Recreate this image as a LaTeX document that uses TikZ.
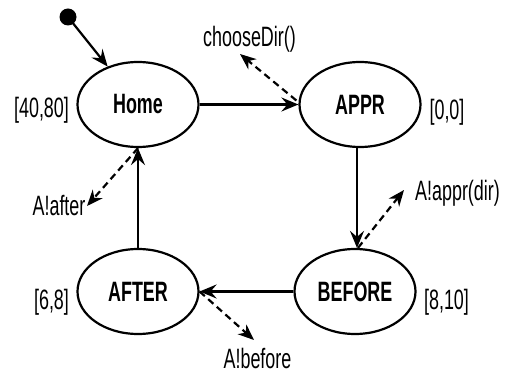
\documentclass[tikz,border=0pt]{standalone}
\usepackage{fontspec}
\setmainfont[FakeStretch=0.64]{Liberation Sans}
\usetikzlibrary{shapes.geometric,arrows.meta}
\tikzset{
  state/.style={draw, ellipse, line width=2.2pt, minimum width=121pt, minimum height=85pt, inner sep=0pt, font=\fontsize{28}{32}\selectfont\bfseries},
  lbl/.style={anchor=base, inner sep=0pt, font=\fontsize{28}{32}\selectfont},
  trans/.style={line width=2.2pt, -{Stealth[length=17pt,width=14pt,inset=6pt]}},
  sig/.style={line width=2.2pt, dash pattern=on 7pt off 4.5pt, -{Stealth[length=16pt,width=13pt,inset=5pt]}}
}
\begin{document}
\begin{tikzpicture}[x=1pt,y=-1pt]
\useasboundingbox (0,0) rectangle (506,374);
\node[state] (home) at (138,104.5) {\raisebox{1.5pt}{Home}};
\node[state] (appr) at (360,104.5) {APPR};
\node[state] (before) at (355,291.5) {BEFORE};
\node[state] (after) at (138,291.5) {AFTER};
\fill (68,17) circle (8.5pt);
\coordinate (init) at (68,17);
\coordinate (vx) at (357,0);
\node[lbl] (t1) at (41.5,118) {[40,80]};
\node[lbl] (t2) at (447,120) {[0,0]};
\node[lbl] (t3) at (446.5,309) {[8,10]};
\node[lbl] (t4) at (51.5,309) {[6,8]};
\node[lbl] (choose) at (249.5,46.5) {chooseDir()};
\node[lbl] (aafter) at (59,215) {A!after};
\node[lbl] (abefore) at (257.5,368.5) {A!before};
\node[lbl] (aappr) at (457.5,201) {A!appr(dir)};
\coordinate (cdtip) at (240,54);
\coordinate (aftip) at (87,206);
\coordinate (bftip) at (254,340);
\coordinate (aptip) at (404,190);
\draw[trans] (init) -- (home);
\draw[trans] (home) -- (appr);
\draw[trans] (appr.south -| vx) -- (before.north -| vx);
\draw[trans] (before) -- (after);
\draw[trans] (after) -- (home);
\draw[sig] (appr.west) ++(-2,-4) -- (cdtip);
\draw[sig] (home.south) -- (aftip);
\draw[sig] (after.east) -- (bftip);
\draw[sig] (before.north) ++(3,0) -- (aptip);
\end{tikzpicture}
\end{document}
